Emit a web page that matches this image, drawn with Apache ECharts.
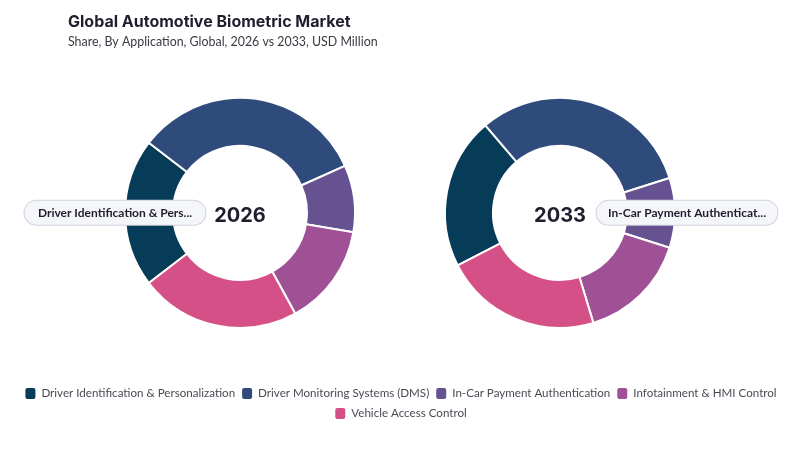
<!DOCTYPE html>
<html>
<head>
<meta charset="utf-8">
<script src="https://cdn.jsdelivr.net/npm/echarts@6/dist/echarts.min.js"></script>
<style>
  html, body { margin: 0; padding: 0; background: #fff; }
  #chart { width: 800px; height: 450px; }
</style>
</head>
<body>
<div id="chart"></div>
<script>
// application segments
const categories = [
  "Driver Identification & Personalization",
  "Driver Monitoring Systems (DMS)",
  "In-Car Payment Authentication",
  "Infotainment & HMI Control",
  "Vehicle Access Control"
];
const colors = ["#073c58", "#2f4b7c", "#665191", "#a05195", "#d45087"];

// USD million (estimated from shares)
const values2026 = [251, 395, 113, 172, 271];
const values2033 = [660, 970, 304, 477, 685];

const years = ["2026", "2033"];
const highlighted = [0, 2]; // slice carrying the pill label in each donut

const font = "Inter, 'Noto Sans', sans-serif";
const narrow = "Lato, 'Noto Sans', sans-serif";

function sum(a) { return a.reduce((s, v) => s + v, 0); }

// rotate so the labelled slice points at 180deg (left) / 0deg (right)
function startFor(values, idx, target) {
  const total = sum(values);
  let before = 0;
  for (let i = 0; i < idx; i++) before += values[i];
  return target + (before + values[idx] / 2) / total * 360;
}

function donut(values, year, idx, cx, target, offX) {
  return {
    type: "pie",
    name: year,
    center: [cx, "47.3%"],
    radius: [67, 115],
    startAngle: startFor(values, idx, target),
    clockwise: true,
    avoidLabelOverlap: false,
    silent: true,
    itemStyle: { borderColor: "#fff", borderWidth: 2 },
    label: { show: false },
    labelLine: { show: false },
    data: values.map((v, i) => {
      const d = { name: categories[i], value: v, itemStyle: { color: colors[i] } };
      if (i === idx) {
        d.label = {
          show: true,
          position: "inside",
          offset: [offX, 0],
          formatter: "{b}",
          width: 161,
          overflow: "truncate",
          ellipsis: "...",
          fontFamily: narrow,
          fontSize: 12,
          fontWeight: 700,
          color: "#1f1d2e",
          backgroundColor: "#f5f6f9",
          borderColor: "#cfd3dc",
          borderWidth: 1,
          borderRadius: 13,
          padding: [6, 10, 6, 10]
        };
      }
      return d;
    })
  };
}

function legendRow(items, top) {
  return {
    data: items,
    top: top,
    left: "center",
    icon: "roundRect",
    itemWidth: 12,
    itemHeight: 13,
    itemGap: 5,
    textStyle: { fontFamily: narrow, fontSize: 11.6, color: "#4a4a55" }
  };
}

const chart = echarts.init(document.getElementById("chart"));
chart.setOption({
  animation: false,
  title: [
    {
      text: "Global Automotive Biometric Market",
      subtext: "Share, By Application, Global, 2026 vs 2033, USD Million",
      left: 63,
      top: 9,
      itemGap: 6,
      textStyle: { fontFamily: font, fontSize: 16, fontWeight: 700, color: "#1f1d2e" },
      subtextStyle: { fontFamily: narrow, fontSize: 12.4, color: "#3a3a44" }
    },
    {
      text: years[0], left: 235, top: 201, textAlign: "center",
      textStyle: { fontFamily: font, fontSize: 20, fontWeight: 700, color: "#1f1d2e" }
    },
    {
      text: years[1], left: 555, top: 201, textAlign: "center",
      textStyle: { fontFamily: font, fontSize: 20, fontWeight: 700, color: "#1f1d2e" }
    }
  ],
  legend: [
    legendRow(categories.slice(0, 4), 381),
    legendRow(categories.slice(4), 401)
  ],
  series: [
    donut(values2026, years[0], highlighted[0], 240, 180, -31),
    donut(values2033, years[1], highlighted[1], 560, 0, 33)
  ]
});
</script>
</body>
</html>
